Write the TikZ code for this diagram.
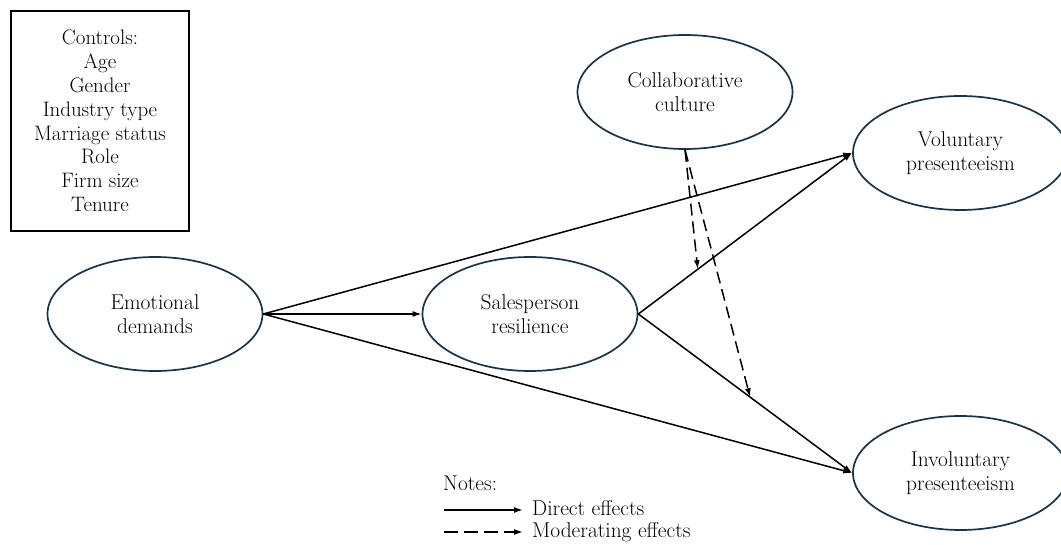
\documentclass[tikz,border=0pt]{standalone}
\usetikzlibrary{shapes.geometric,arrows.meta}
\definecolor{ellcol}{HTML}{17344A}
\tikzset{
  construct/.style={ellipse,draw=ellcol,line width=1.7bp,minimum width=215bp,minimum height=114bp,inner sep=0pt,align=center,font=\rmfamily\fontsize{21.5}{24}\selectfont},
  direct/.style={line width=1.5bp,-{Latex[length=9bp,width=6bp]}},
  moder/.style={line width=1.5bp,dash pattern=on 12bp off 6bp,-{Latex[length=9bp,width=6bp]}},
  txt/.style={font=\rmfamily\fontsize{21.5}{23.3}\selectfont,inner sep=0pt},
}
\begin{document}
\begin{tikzpicture}[x=1bp,y=-1bp]
\useasboundingbox (0,0) rectangle (1061,545);
\node[draw=black,line width=1.7bp,minimum width=178bp,minimum height=220bp,align=center,font=\rmfamily\fontsize{21}{23.9}\selectfont,inner sep=0pt] (ctrl) at (100,121) {Controls:\\Age\\Gender\\Industry type\\Marriage status\\Role\\Firm size\\Tenure};
\node[construct] (ed) at (155,314) {Emotional\\demands};
\node[construct] (sr) at (530,314) {Salesperson\\resilience};
\node[construct] (cc) at (685,92) {Collaborative\\culture};
\node[construct] (vp) at (960.5,153) {Voluntary\\presenteeism};
\node[construct] (ip) at (960.5,473) {Involuntary\\presenteeism};
\draw[direct] (ed.east) -- (vp.west);
\draw[direct] (ed.east) -- (sr.west);
\draw[direct] (ed.east) -- (ip.west);
\draw[direct] (sr.east) -- (vp.west);
\draw[direct] (sr.east) -- (ip.west);
\path (sr.east) -- (vp.west) coordinate[pos=0.278] (m1);
\path (sr.east) -- (ip.west) coordinate[pos=0.523] (m2);
\draw[moder] (cc.south) -- (m1);
\draw[moder] (cc.south) -- (m2);
\node[txt,anchor=base west] (notes) at (443,490) {Notes:};
\coordinate (l1a) at (444,510);
\coordinate (l1b) at (523,510);
\coordinate (l2a) at (444,532);
\coordinate (l2b) at (523,532);
\draw[direct] (l1a) -- (l1b);
\draw[moder,dash pattern=on 14bp off 6bp] (l2a) -- (l2b);
\node[txt,anchor=base west] (de) at (532,515) {Direct effects};
\node[txt,anchor=base west] (me) at (532,537) {Moderating effects};
\end{tikzpicture}
\end{document}
